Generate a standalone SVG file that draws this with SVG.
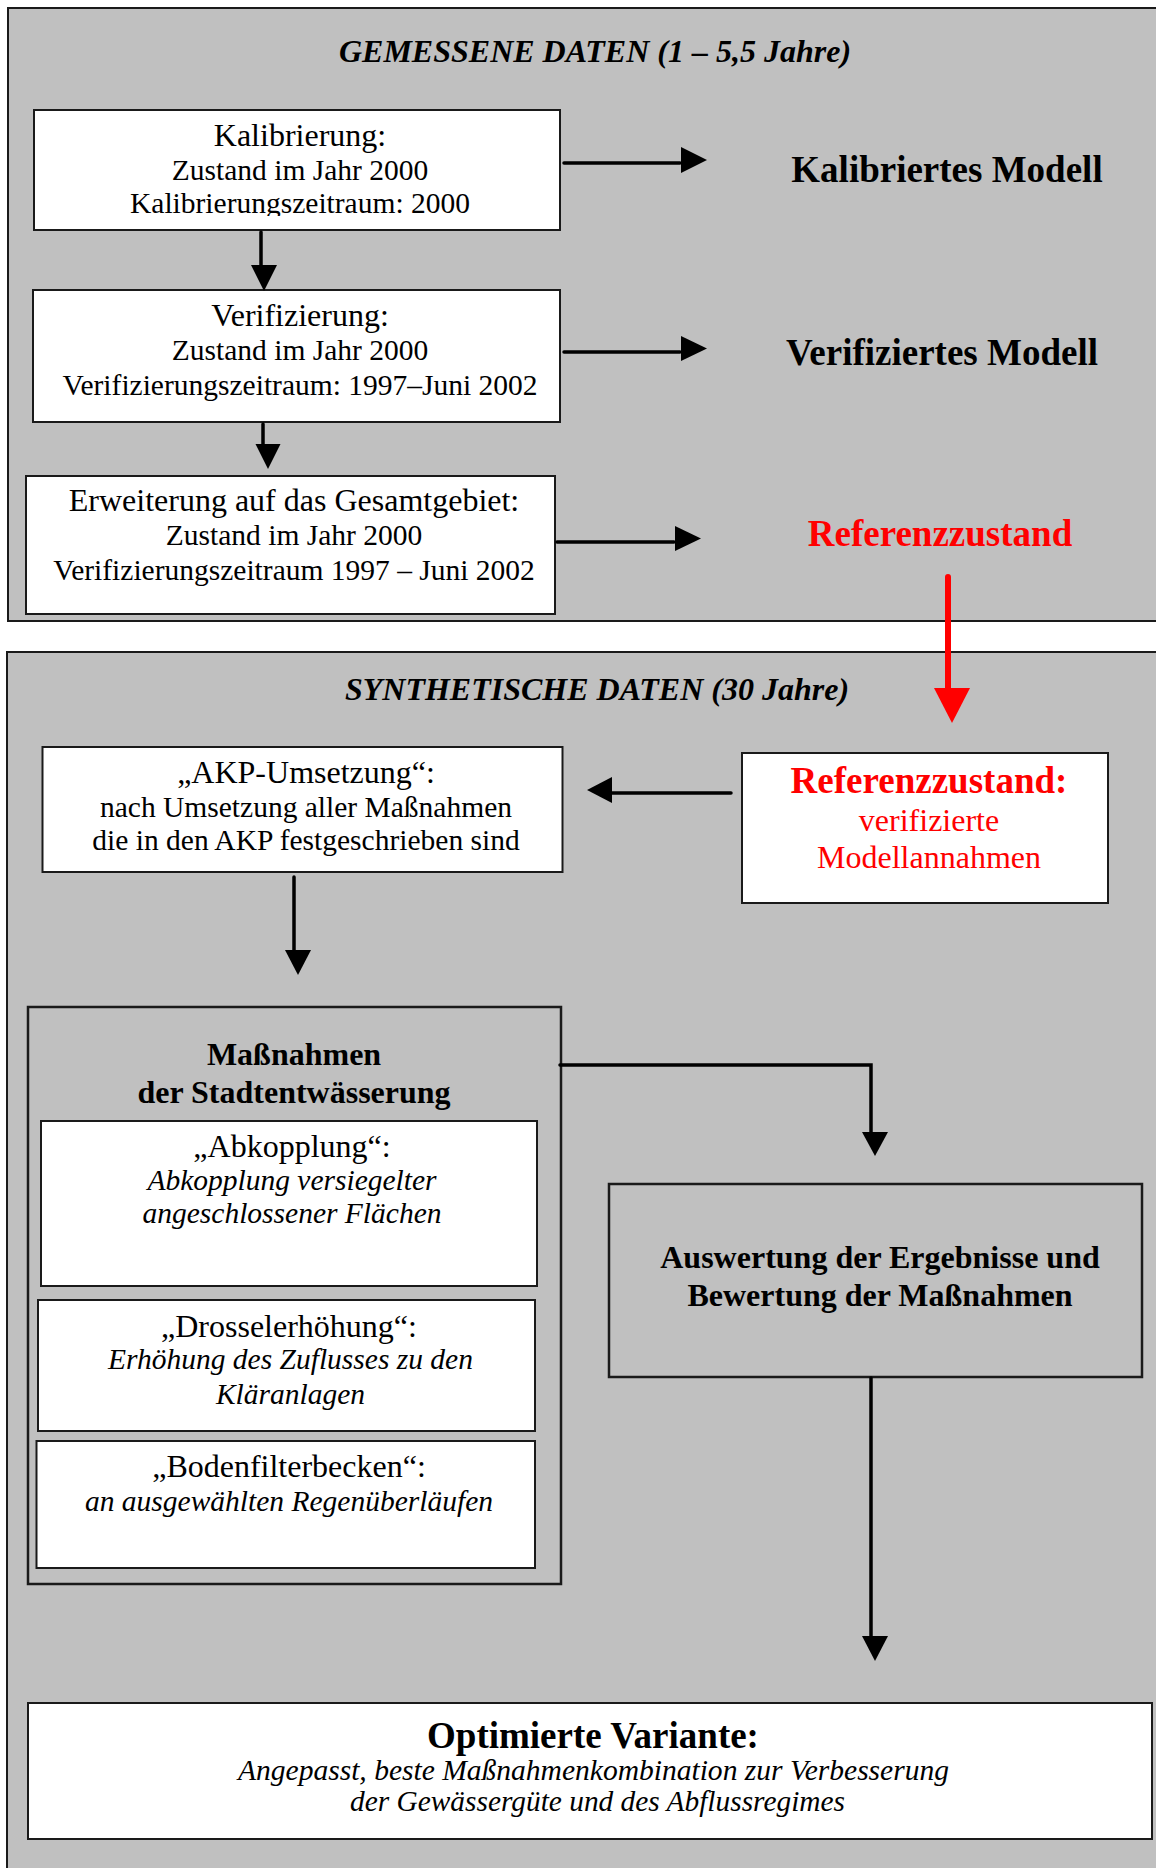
<svg xmlns="http://www.w3.org/2000/svg" width="1156" height="1868" viewBox="0 0 1156 1868">
  <style>
    text { font-family: "Liberation Serif", "Times New Roman", serif; text-anchor: middle; fill: #000; }
    .panel { fill: #c0c0c0; stroke: #1a1a1a; stroke-width: 2; }
    .box { fill: #fff; stroke: #1a1a1a; stroke-width: 2; }
    .gbox { fill: #c0c0c0; stroke: #1a1a1a; stroke-width: 2.5; }
    .th { font-size: 32px; }
    .t { font-size: 29.5px; }
    .ti { font-size: 29.5px; font-style: italic; }
    .head { font-size: 32px; font-weight: bold; font-style: italic; }
    .big { font-size: 37px; font-weight: bold; }
    .mid { font-size: 32px; font-weight: bold; }
    .red { fill: #ff0000; }
    .line { stroke: #000; stroke-width: 3.5; stroke-linecap: round; fill: none; }
    .redline { stroke: #ff0000; stroke-width: 6; stroke-linecap: round; fill: none; }
    .tip { fill: #000; }
  </style>
  <defs>
    <clipPath id="clip-kal">
      <rect x="34" y="110" width="526" height="106"/>
    </clipPath>
  </defs>

  <rect width="1156" height="1868" fill="#fff"/>

  <!-- measured data section -->
  <g id="panel-gemessen">
    <rect class="panel" x="8" y="8" width="1160" height="613"/>
    <text class="head" x="595" y="62">GEMESSENE DATEN (1 – 5,5 Jahre)</text>
  </g>

  <!-- synthetic data section -->
  <g id="panel-synthetisch">
    <rect class="panel" x="7" y="652" width="1160" height="1230"/>
    <text class="head" x="597" y="700">SYNTHETISCHE DATEN (30 Jahre)</text>
  </g>

  <g id="kalibrierung">
    <rect class="box" x="34" y="110" width="526" height="120"/>
    <g clip-path="url(#clip-kal)">
      <text class="th" x="300" y="146">Kalibrierung:</text>
      <text class="t" x="300" y="180">Zustand im Jahr 2000</text>
      <text class="t" x="300" y="213">Kalibrierungszeitraum: 2000</text>
    </g>
  </g>

  <g id="verifizierung">
    <rect class="box" x="33" y="290" width="527" height="132"/>
    <text class="th" x="300" y="326">Verifizierung:</text>
    <text class="t" x="300" y="360">Zustand im Jahr 2000</text>
    <text class="t" x="300" y="395">Verifizierungszeitraum: 1997–Juni 2002</text>
  </g>

  <g id="erweiterung">
    <rect class="box" x="26" y="476" width="529" height="138"/>
    <text class="th" x="294" y="511">Erweiterung auf das Gesamtgebiet:</text>
    <text class="t" x="294" y="545">Zustand im Jahr 2000</text>
    <text class="t" x="294" y="580">Verifizierungszeitraum 1997 – Juni 2002</text>
  </g>

  <g id="kalibriertes-modell">
    <text class="big" x="947" y="182">Kalibriertes Modell</text>
  </g>
  <g id="verifiziertes-modell">
    <text class="big" x="942" y="365">Verifiziertes Modell</text>
  </g>
  <g id="referenzzustand">
    <text class="big red" x="940" y="546">Referenzzustand</text>
  </g>

  <g id="akp-umsetzung">
    <rect class="box" x="42.5" y="747" width="520" height="125"/>
    <text class="th" x="306" y="783">„AKP-Umsetzung“:</text>
    <text class="t" x="306" y="817">nach Umsetzung aller Maßnahmen</text>
    <text class="t" x="306" y="850">die in den AKP festgeschrieben sind</text>
  </g>

  <g id="referenzzustand-modell">
    <rect class="box" x="742" y="753" width="366" height="150"/>
    <text class="big red" x="929" y="793">Referenzzustand:</text>
    <text class="red" x="929" y="831" font-size="32">verifizierte</text>
    <text class="red" x="929" y="868" font-size="32">Modellannahmen</text>
  </g>

  <g id="massnahmen">
    <rect class="gbox" x="28" y="1007" width="533" height="577"/>
    <text class="mid" x="294" y="1065">Maßnahmen</text>
    <text class="mid" x="294" y="1103">der Stadtentwässerung</text>
  </g>

  <g id="abkopplung">
    <rect class="box" x="41" y="1121" width="496" height="165"/>
    <text class="th" x="292" y="1157">„Abkopplung“:</text>
    <text class="ti" x="292" y="1189.5">Abkopplung versiegelter</text>
    <text class="ti" x="292" y="1223">angeschlossener Flächen</text>
  </g>

  <g id="drosselerhoehung">
    <rect class="box" x="38" y="1300" width="497" height="131"/>
    <text class="th" x="289" y="1337">„Drosselerhöhung“:</text>
    <text class="ti" x="290.5" y="1369">Erhöhung des Zuflusses zu den</text>
    <text class="ti" x="290.5" y="1404">Kläranlagen</text>
  </g>

  <g id="bodenfilterbecken">
    <rect class="box" x="36.5" y="1441" width="498.5" height="127"/>
    <text class="th" x="289" y="1476.5">„Bodenfilterbecken“:</text>
    <text class="ti" x="289" y="1511">an ausgewählten Regenüberläufen</text>
  </g>

  <g id="auswertung">
    <rect class="gbox" x="609" y="1184" width="533" height="193"/>
    <text class="mid" x="880" y="1268">Auswertung der Ergebnisse und</text>
    <text class="mid" x="880" y="1306">Bewertung der Maßnahmen</text>
  </g>

  <g id="optimierte-variante">
    <rect class="box" x="28" y="1703" width="1124" height="136" stroke-width="2.5"/>
    <text class="big" x="593" y="1748">Optimierte Variante:</text>
    <text x="593.5" y="1780" font-size="29" font-style="italic" textLength="711" lengthAdjust="spacingAndGlyphs">Angepasst, beste Maßnahmenkombination zur Verbesserung</text>
    <text x="597.5" y="1811" font-size="29" font-style="italic" textLength="495" lengthAdjust="spacingAndGlyphs">der Gewässergüte und des Abflussregimes</text>
  </g>

  <!-- connectors -->
  <g id="connectors">
    <!-- calibration to verification to extension -->
    <line class="line" x1="261" y1="232" x2="261" y2="266"/>
    <polygon class="tip" points="251,265 277,265 264,291"/>
    <line class="line" x1="263" y1="424" x2="263" y2="445"/>
    <polygon class="tip" points="255.5,444 280.5,444 268,469"/>

    <!-- results to the right -->
    <line class="line" x1="564" y1="163" x2="680" y2="163"/>
    <polygon class="tip" points="681,147 707,160 681,173"/>
    <line class="line" x1="564" y1="352" x2="680" y2="352"/>
    <polygon class="tip" points="681,336 707,348.5 681,361"/>
    <line class="line" x1="557" y1="542" x2="674" y2="542"/>
    <polygon class="tip" points="675,526 701,538.5 675,551"/>

    <!-- reference state carried into the synthetic runs -->
    <line class="redline" x1="948" y1="577" x2="948" y2="690"/>
    <polygon fill="#ff0000" points="934,688 970,688 952,723"/>

    <!-- reference state to AKP -->
    <line class="line" x1="731" y1="793" x2="611" y2="793"/>
    <polygon class="tip" points="587,790 612,777 612,803"/>

    <!-- AKP to measures -->
    <line class="line" x1="294" y1="877" x2="294" y2="951"/>
    <polygon class="tip" points="285,950 311,950 298,975"/>

    <!-- measures to evaluation -->
    <polyline class="line" points="560,1065 871,1065 871,1133"/>
    <polygon class="tip" points="862,1132 888,1132 875,1156"/>

    <!-- evaluation to optimised variant -->
    <line class="line" x1="871" y1="1378" x2="871" y2="1637"/>
    <polygon class="tip" points="862,1636 888,1636 875,1661"/>
  </g>
</svg>
